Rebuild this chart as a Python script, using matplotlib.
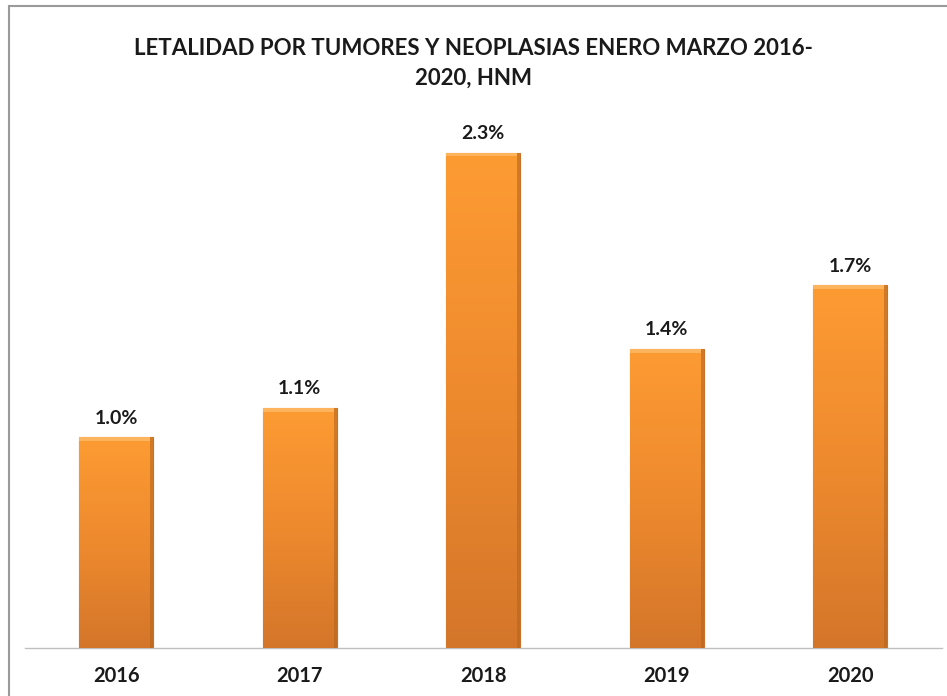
import numpy as np
import matplotlib.pyplot as plt
from matplotlib.colors import LinearSegmentedColormap
from matplotlib.patches import Rectangle

# -------------------------------
# DATA
# -------------------------------
years = ["2016", "2017", "2018", "2019", "2020"]
letalidad = [1.00, 1.14, 2.35, 1.42, 1.72]
labels = ["1.0%", "1.1%", "2.3%", "1.4%", "1.7%"]
title = "LETALIDAD POR TUMORES Y NEOPLASIAS ENERO MARZO 2016-\n2020, HNM"

plt.rcParams["font.family"] = ["Lato", "DejaVu Sans"]

fig = plt.figure(figsize=(9.47, 6.96), dpi=100)
ax = fig.add_axes([24.5 / 947, 48 / 696, 917.5 / 947, 548 / 696])

# outer frame of the chart area
fig.add_artist(Rectangle((9 / 947, -0.1), 1.2, 1.1 - 6 / 696,
                         transform=fig.transFigure, fill=False,
                         edgecolor="#9a9a9a", linewidth=1.5))

x = np.arange(len(years))
bars = ax.bar(x, letalidad, width=0.403, color="#F28C2E",
              edgecolor="#C9702A", linewidth=0.8, zorder=2)

# vertical gradient on each bar
cmap = LinearSegmentedColormap.from_list("naranja", ["#D4762A", "#EE8A2E", "#FD9B33"])
grad = np.linspace(0, 1, 256).reshape(-1, 1)
for b in bars:
    x0, y0 = b.get_x(), b.get_y()
    w, h = b.get_width(), b.get_height()
    im = ax.imshow(grad, extent=(x0, x0 + w, y0, y0 + h), origin="lower",
                   cmap=cmap, aspect="auto", zorder=3)
    im.set_clip_path(b)
    # darker right edge (shadow) and light bevel on top
    ax.add_patch(Rectangle((x0 + w * 0.96, y0), w * 0.04, h, color="#B5651F",
                           alpha=0.6, zorder=4, linewidth=0))
    ax.add_patch(Rectangle((x0, y0 + h - 0.018), w * 0.96, 0.018, color="#FFC070",
                           alpha=0.7, zorder=4, linewidth=0))

for xi, v, lab in zip(x, letalidad, labels):
    ax.text(xi, v + 0.05, lab, ha="center", va="bottom",
            fontsize=14, fontweight="bold", color="#1a1a1a")

ax.set_xlim(-0.5, 4.5)
ax.set_ylim(0, 2.6)
ax.set_xticks(x)
ax.set_xticklabels(years, fontsize=14.5, fontweight="bold", color="#1a1a1a")
ax.tick_params(axis="x", length=0, pad=13)
ax.set_yticks([])
for s in ["top", "right", "left"]:
    ax.spines[s].set_visible(False)
ax.spines["bottom"].set_color("#bfbfbf")
ax.spines["bottom"].set_linewidth(1)

fig.text(0.5, 1 - 63 / 696, title, ha="center", va="center",
         fontsize=16, fontweight="bold", color="#1a1a1a", linespacing=1.5)

fig.savefig("out.png", dpi=100)
